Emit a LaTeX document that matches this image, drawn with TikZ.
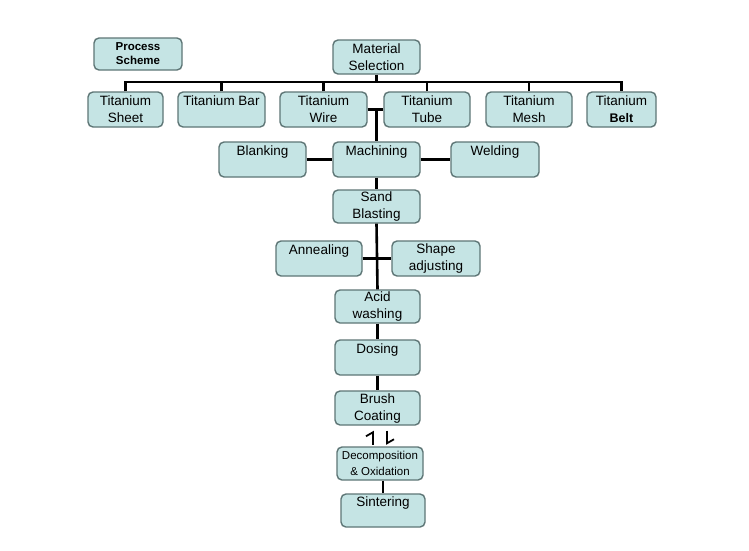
\documentclass[tikz,border=0pt]{standalone}
\usepackage{fontspec}
\setmainfont{Liberation Sans}
\usetikzlibrary{arrows.meta}
\definecolor{boxfill}{HTML}{C5E4E4}
\definecolor{boxline}{HTML}{5E7676}
\begin{document}
\begin{tikzpicture}[x=1pt,y=-1pt,
  box/.style={draw=boxline,line width=1.4pt,fill=boxfill,rounded corners=5pt,
    minimum height=34pt,inner sep=1pt,align=center,
    font=\fontsize{13.5}{17}\selectfont},
  conn/.style={line width=2.6pt,black},
  harp/.style={line width=1.8pt,black,-{Straight Barb[harpoon,length=4pt,width=14pt]}}]
\useasboundingbox (0,0) rectangle (749,550);
\fill[white] (0,0) rectangle (749,550);
\coordinate (barline) at (0,82);
% nodes
\node[box,minimum width=88pt,minimum height=32pt,font=\bfseries\fontsize{11.5}{14}\selectfont] (proc) at (138,54) {Process\\Scheme};
\node[box,minimum width=87pt] (mat) at (376.5,57) {Material\\Selection};
\node[box,minimum width=75pt,minimum height=35pt] (sheet) at (125.5,109.5) {Titanium\\Sheet};
\node[box,minimum width=87pt,minimum height=35pt] (bar) at (221.5,109.5) {Titanium Bar\\~};
\node[box,minimum width=87pt,minimum height=35pt] (wire) at (323.5,109.5) {Titanium\\Wire};
\node[box,minimum width=86pt,minimum height=35pt] (tube) at (427,109.5) {Titanium\\Tube};
\node[box,minimum width=86pt,minimum height=35pt] (mesh) at (529,109.5) {Titanium\\Mesh};
\node[box,minimum width=69pt,minimum height=35pt] (belt) at (621.5,109.5) {Titanium\\\textbf{\fontsize{12.5}{17}\selectfont Belt}};
\node[box,minimum width=87pt,minimum height=35pt] (blank) at (262.5,159.5) {Blanking\\~};
\node[box,minimum width=87pt,minimum height=35pt] (mach) at (376.5,159.5) {Machining\\~};
\node[box,minimum width=88pt,minimum height=35pt] (weld) at (495,159.5) {Welding\\~};
\node[box,minimum width=87pt,minimum height=33pt] (sand) at (376.5,206.5) {Sand\\Blasting};
\node[box,minimum width=86pt,minimum height=35pt] (anneal) at (319,258.5) {Annealing\\~};
\node[box,minimum width=88pt,minimum height=35pt] (shape) at (436,258.5) {Shape\\adjusting};
\node[box,minimum width=85pt,minimum height=33pt] (acid) at (377.5,306.5) {Acid\\washing};
\node[box,minimum width=85pt,minimum height=35pt] (dosing) at (377.5,357.5) {Dosing\\~};
\node[box,minimum width=85pt,minimum height=34pt] (brush) at (377.5,408) {Brush\\Coating};
\node[box,minimum width=86pt,minimum height=33pt,font=\fontsize{11.5}{16}\selectfont] (decomp) at (380,463.5) {Decomposition\\\&~Oxidation};
\node[box,minimum width=84pt,minimum height=33pt] (sinter) at (383,510.5) {Sintering\\~};
% connectors
\draw[conn] (sheet.north) -- (sheet.north |- barline) -| (belt.north);
\draw[conn] (mat.south) -- (mat.south |- barline);
\draw[conn] (bar.north) -- (bar.north |- barline);
\draw[conn] (wire.north) -- (wire.north |- barline);
\draw[conn] (tube.north) -- (tube.north |- barline);
\draw[conn] (mesh.north) -- (mesh.north |- barline);
\draw[conn] (wire.east) -- (tube.west);
\draw[conn] (wire.east -| mach.north) -- (mach.north);
\draw[conn] (blank.east) -- (mach.west);
\draw[conn] (mach.east) -- (weld.west);
\draw[conn] (mach.south) -- (sand.north);
\draw[conn] (sand.south) -- (acid.north);
\draw[conn] (anneal.east) -- (shape.west);
\draw[conn] (acid.south) -- (dosing.north);
\draw[conn] (dosing.south) -- (brush.north);
\draw[conn] (decomp.south -| sinter.north) -- (sinter.north);
\draw[harp,shorten <=1.5pt,shorten >=5pt] ([xshift=-7pt]decomp.north) -- ([xshift=-7pt]decomp.north |- brush.south);
\draw[harp,shorten <=5pt,shorten >=1.5pt] ([xshift=7pt]decomp.north |- brush.south) -- ([xshift=7pt]decomp.north);
\end{tikzpicture}
\end{document}
